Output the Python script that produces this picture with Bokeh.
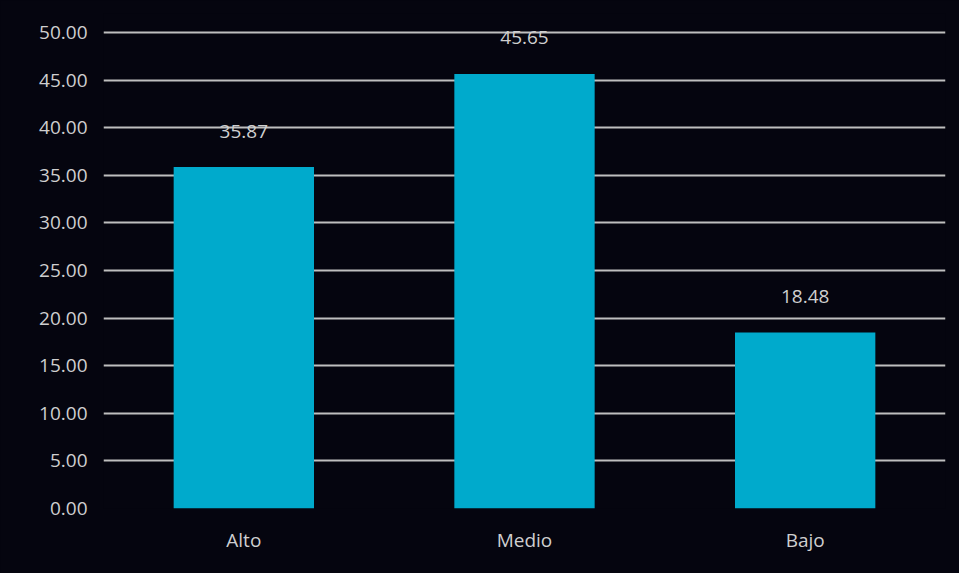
from bokeh.plotting import figure
from bokeh.models import ColumnDataSource, FactorRange, Range1d, FixedTicker, LabelSet, NumeralTickFormatter
from bokeh.core.properties import value
from bokeh.embed import file_html
from bokeh.resources import INLINE

categories = ["Alto", "Medio", "Bajo"]
values = [35.87, 45.65, 18.48]
labels = ["35.87", "45.65", "18.48"]
y_ticks = [0, 5, 10, 15, 20, 25, 30, 35, 40, 45, 50]

BG = "#05050f"
TXT = "#cfcfcf"
FONT = "Open Sans"

src = ColumnDataSource(dict(cat=categories, val=values, lab=labels))

p = figure(width=959, height=573, output_backend="svg", toolbar_location=None,
           x_range=FactorRange(*categories, range_padding=0), y_range=Range1d(0, 52),
           min_border_left=103, min_border_right=14, min_border_top=13, min_border_bottom=65,
           outline_line_color=None)
p.styles = {"background-color": BG}
p.background_fill_color = BG
p.border_fill_color = BG

p.vbar(x="cat", top="val", width=0.5, source=src, fill_color="#00aacc", line_color=None)

p.add_layout(LabelSet(x="cat", y="val", text="lab", source=src, y_offset=36,
                      text_align="center", text_baseline="middle",
                      text_color=TXT, text_font_size="19px", text_font=value(FONT)))

p.yaxis.ticker = FixedTicker(ticks=y_ticks)
p.yaxis.formatter = NumeralTickFormatter(format="0.00")
p.yaxis.axis_line_color = None
p.yaxis.major_tick_line_color = None
p.yaxis.minor_tick_line_color = None
p.yaxis.major_label_standoff = 10
p.yaxis.major_label_text_color = TXT
p.yaxis.major_label_text_font_size = "19px"
p.yaxis.major_label_text_font = FONT

p.xaxis.axis_line_color = None
p.xaxis.major_tick_line_color = None
p.xaxis.minor_tick_line_color = None
p.xaxis.major_label_standoff = 12
p.xaxis.major_label_text_color = TXT
p.xaxis.major_label_text_font_size = "19px"
p.xaxis.major_label_text_font = FONT

p.xgrid.grid_line_color = None
p.ygrid.grid_line_color = "#bfbfbf"
p.ygrid.grid_line_width = 2
p.ygrid.level = "underlay"

open("out.html", "w").write(file_html(p, INLINE))
